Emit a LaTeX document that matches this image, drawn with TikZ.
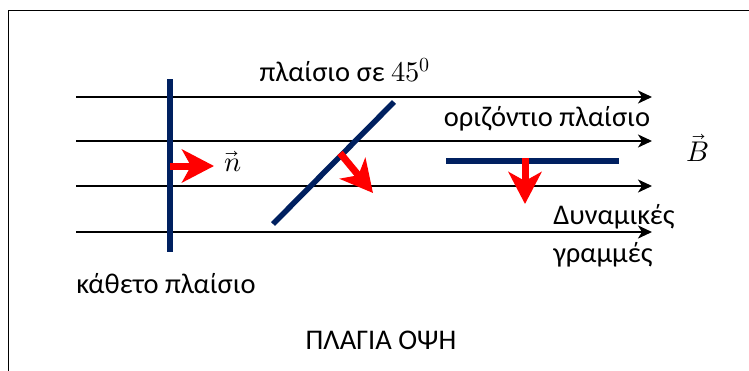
\documentclass[tikz,border=0pt]{standalone}
\usepackage{fontspec}
\usepackage{unicode-math}
\setmainfont{Carlito}
\setmathfont{Latin Modern Math}
\usetikzlibrary{arrows.meta}
\definecolor{plate}{HTML}{002060}
\definecolor{nred}{HTML}{FF0000}
\tikzset{
  fieldline/.style={line width=2pt, -{Stealth[length=14pt,width=13pt,inset=4pt]}},
  platebar/.style={line width=5.5pt, plate},
  normalarrow/.style={line width=7pt, nred, -{Stealth[length=32pt,width=33pt,inset=9pt]}},
  lbl/.style={font=\fontsize{28.5}{33}\selectfont, inner sep=0pt},
  border/.style={line width=1.5pt, black}
}
\begin{document}
\begin{tikzpicture}[x=1pt,y=-1pt]
\useasboundingbox (0,0) rectangle (749,370);
% border (only top and left visible)
\coordinate (bl) at (8.5,371);
\coordinate (tl) at (8.5,10.5);
\coordinate (tr) at (750,10.5);
\draw[border] (bl) -- (tl) -- (tr);
% field lines
\foreach \i/\y in {1/97,2/141,3/186,4/232}{
  \coordinate (fs\i) at (76,\y);
  \coordinate (fe\i) at (652,\y);
  \draw[fieldline] (fs\i) -- (fe\i);
}
% vertical plate
\coordinate (v1) at (170,79);
\coordinate (v2) at (170,252);
\draw[platebar] (v1) -- (v2);
\coordinate (n1) at (170,166);
\coordinate (n2) at (214,166);
\draw[normalarrow] (n1) -- (n2);
\node[lbl] (nlab) at (233,162) {$\vec{n}$};
% diagonal plate
\coordinate (d1) at (273,224);
\coordinate (d2) at (394,102);
\draw[platebar] (d1) -- (d2);
\coordinate (m1) at (340,153);
\coordinate (m2) at (373,193);
\draw[normalarrow] (m1) -- (m2);
% horizontal plate
\coordinate (h1) at (446,161);
\coordinate (h2) at (619,161);
\draw[platebar] (h1) -- (h2);
\coordinate (k1) at (525,158);
\coordinate (k2) at (525,204);
\draw[normalarrow] (k1) -- (k2);
% labels
\node[lbl] (t45) at (345,70) {πλαίσιο σε $45^0$};
\node[lbl] (thor) at (547,119) {οριζόντιο πλαίσιο};
\node[lbl] (tB) at (698,148) {$\vec{B}$};
\node[lbl] (tdyn) at (614,217) {Δυναμικές};
\node[lbl] (tgr) at (603,255) {γραμμές};
\node[lbl] (tkat) at (166,284) {κάθετο πλαίσιο};
\node[lbl] (tside) at (381,340) {ΠΛΑΓΙΑ ΟΨΗ};
\end{tikzpicture}
\end{document}
